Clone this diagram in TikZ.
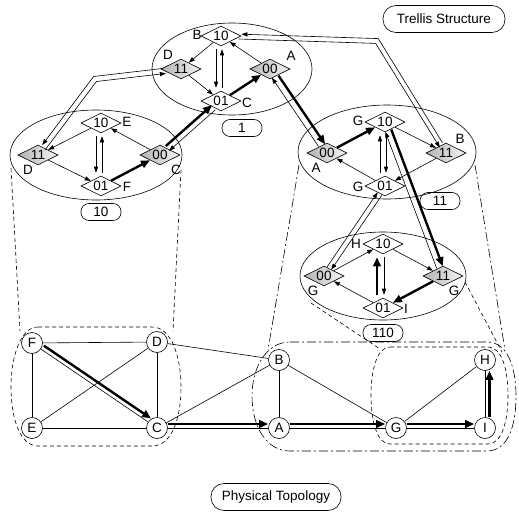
\documentclass[tikz,border=0pt]{standalone}
\usepackage{fontspec}
\setmainfont{Liberation Sans}
\usetikzlibrary{shapes.geometric,arrows.meta,calc}
\begin{document}
\begin{tikzpicture}[x=1pt,y=-1pt,
  font=\fontsize{13.5}{16}\selectfont,
  ln/.style={line width=0.6pt},
  ar/.style={line width=0.6pt,-{Triangle[length=6pt,width=4.2pt]}},
  tar/.style={line width=2.4pt,-{Triangle[length=9pt,width=7.5pt]}},
  el/.style={line width=0.6pt},
  st/.style={diamond,draw,line width=0.6pt,fill=white,minimum width=40pt,minimum height=20pt,inner sep=0pt,aspect=2},
  sst/.style={st,left color=gray!60,right color=gray!8},
  lbl/.style={draw,line width=0.6pt,rounded corners=8pt,minimum width=40pt,minimum height=17pt,inner sep=0pt},
  ttl/.style={draw,line width=0.6pt,rounded corners=13pt,minimum height=27pt,inner sep=0pt},
  pn/.style={circle,draw,line width=0.6pt,fill=white,minimum size=21pt,inner sep=0pt},
  dsh/.style={line width=0.6pt,dash pattern=on 4pt off 3pt},
  dd/.style={line width=0.6pt,dash pattern=on 9pt off 3pt on 2pt off 3pt},
  tx/.style={inner sep=0pt}]
\useasboundingbox (0,0) rectangle (519,519);

% ---------- titles ----------
\node[ttl,minimum width=122pt] (trellis) at (444,19) {Trellis Structure};
\node[ttl,minimum width=130pt] (phys) at (276,497) {Physical Topology};

% ---------- ellipses ----------
\draw[el] (232,69) ellipse [x radius=80, y radius=46];
\draw[el] (96,155) ellipse [x radius=86, y radius=45];
\draw[el] (387,152) ellipse [x radius=89, y radius=47];
\draw[el] (383,276) ellipse [x radius=83, y radius=44];

% ---------- top trellis (1) ----------
\node[st]  (tB) at (221,36) {10};
\node[sst] (tD) at (181,69) {11};
\node[sst] (tA) at (270,69) {00};
\node[st]  (tC) at (221,101) {01};
\node[lbl] (t1) at (242,128) {1};
\node[tx] (tBl) at (197,35) {B};
\node[tx] (tDl) at (168,55) {D};
\node[tx] (tAl) at (291,56) {A};
\node[tx] (tCl) at (247,103) {C};

% ---------- left trellis (10) ----------
\node[st]  (lE) at (101,123) {10};
\node[sst] (lD) at (38,155) {11};
\node[sst] (lC) at (160,155) {00};
\node[st]  (lF) at (101,186) {01};
\node[lbl] (l10) at (101,212) {10};
\node[tx] (lEl) at (127,122) {E};
\node[tx] (lDl) at (28,170) {D};
\node[tx] (lCl) at (176,170) {C};
\node[tx] (lFl) at (127,187) {F};

% ---------- right trellis (11) ----------
\node[st]  (rG) at (385,122) {10};
\node[sst] (rA) at (327,153) {00};
\node[sst] (rB) at (446,153) {11};
\node[st]  (rH) at (385,186) {01};
\node[lbl] (r11) at (440,201) {11};
\node[tx] (rGl) at (358,121) {G};
\node[tx] (rAl) at (316,168) {A};
\node[tx] (rBl) at (460,139) {B};
\node[tx] (rHl) at (358,187) {G};

% ---------- lower trellis (110) ----------
\node[st]  (wH) at (383,244) {10};
\node[sst] (wG) at (324,276) {00};
\node[sst] (wK) at (443,276) {11};
\node[st]  (wI) at (383,308) {01};
\node[lbl] (w110) at (383,333) {110};
\node[tx] (wHl) at (356,244) {H};
\node[tx] (wGl) at (313,291) {G};
\node[tx] (wKl) at (454,291) {G};
\node[tx] (wIl) at (406,309) {I};

% ---------- edges inside trellises ----------
% top
\draw[ar] (tB) -- (tD);
\draw[ar] (tD) -- (tC);
\draw[ar] (tA) -- (tB);
\draw[tar] (tC) -- (tA);
\draw[ar] ($(tB.south)+(-5,3)$) -- ($(tC.north)+(-5,-3)$);
\draw[ar] ($(tC.north)+(1,-3)$) -- ($(tB.south)+(1,3)$);
% left
\draw[ar] (lE) -- (lD);
\draw[ar] (lD) -- (lF);
\draw[ar] (lC) -- (lE);
\draw[tar] (lF) -- (lC);
\draw[ar] ($(lE.south)+(-5,3)$) -- ($(lF.north)+(-5,-3)$);
\draw[ar] ($(lF.north)+(1,-3)$) -- ($(lE.south)+(1,3)$);
% right
\draw[tar] (rA) -- (rG);
\draw[ar] (rG) -- (rB);
\draw[ar] (rB) -- (rH);
\draw[ar] (rH) -- (rA);
\draw[ar] ($(rH.north)+(-5,-3)$) -- ($(rG.south)+(-5,3)$);
\draw[ar] ($(rG.south)+(1,3)$) -- ($(rH.north)+(1,-3)$);
% lower
\draw[ar] (wG) -- (wH);
\draw[ar] (wH) -- (wK);
\draw[tar] (wK) -- (wI);
\draw[ar] (wI) -- (wG);
\draw[tar] ($(wI.north)+(-6,-3)$) -- ($(wH.south)+(-6,3)$);
\draw[ar] ($(wH.south)+(1,3)$) -- ($(wI.north)+(1,-3)$);

% ---------- edges between trellises ----------
\coordinate (bendD) at (95,79);
\draw[ar,transform canvas={shift={(-1.4,-2.5)}}] (tD) -- (bendD) -- (lD);
\draw[ar,transform canvas={shift={(1.4,2.5)}}] (lD) -- (bendD) -- (tD);
\coordinate (bendB) at (377,41);
\draw[ar,transform canvas={shift={(1.3,-2.4)}}] (rB) -- (bendB) -- (tB);
\draw[ar,transform canvas={shift={(-1.3,2.4)}}] (tB) -- (bendB) -- (rB);
\draw[tar,transform canvas={shift={(-1.6,-2.4)}}] (lC) -- (tC);
\draw[ar,transform canvas={shift={(1.6,2.4)}}] (tC) -- (lC);
\draw[tar,transform canvas={shift={(3.3,-1.05)}}] (tA) -- (rA);
\draw[ar,transform canvas={shift={(-3.3,1.05)}}] (rA) -- (tA);
\draw[ar,transform canvas={shift={(-2.1,-1.4)}}] (wG) -- (rH);
\draw[ar,transform canvas={shift={(2.1,1.4)}}] (rH) -- (wG);
\draw[tar,transform canvas={shift={(3,-1.1)}}] (rG) -- (wK);
\draw[ar,transform canvas={shift={(-3,1.1)}}] (wK) -- (rG);

% ---------- physical topology ----------
\node[pn] (pF) at (32,343) {F};
\node[pn] (pD) at (157,342) {D};
\node[pn] (pE) at (32,428) {E};
\node[pn] (pC) at (157,428) {C};
\node[pn] (pB) at (279,360) {B};
\node[pn] (pA) at (279,428) {A};
\node[pn] (pG) at (396,428) {G};
\node[pn] (pH) at (485,360) {H};
\node[pn] (pI) at (485,428) {I};

\draw[ln] (pF) -- (pD);
\draw[ln] (pF) -- (pE);
\draw[ln] (pD) -- (pC);
\draw[ln] (pE) -- (pC);
\draw[ln] (pE) -- (pD);
\draw[ln] (pF) -- (pC);
\draw[ln] (pD) -- (pB);
\draw[ln] (pC) -- (pB);
\draw[ln] (pB) -- (pA);
\draw[ln] (pB) -- (pG);
\draw[ln] (pG) -- (pH);
\draw[ln] (pH) -- (pI);
\draw[ln] (pC) -- (pA);
\draw[ln] (pA) -- (pG);
\draw[ln] (pG) -- (pI);

\draw[tar,transform canvas={shift={(3,-3.4)}}] (pF) -- (pC);
\draw[tar,transform canvas={shift={(0,-4)}}] (pC) -- (pA);
\draw[tar,transform canvas={shift={(0,-4)}}] (pA) -- (pG);
\draw[tar,transform canvas={shift={(0,-4)}}] (pG) -- (pI);
\draw[tar,transform canvas={shift={(4.5,0)}}] (pI) -- (pH);

% ---------- groupings ----------
\draw[dsh] (38,327) -- (152,327) .. controls (172,327) and (181,358) .. (181,387)
  .. controls (181,418) and (172,446) .. (152,446) -- (38,446)
  .. controls (20,446) and (11,418) .. (11,387) .. controls (11,358) and (20,327) .. (38,327) -- cycle;
\draw[dd] (290,342) -- (487,342) .. controls (508,342) and (516,368) .. (516,396)
  .. controls (516,426) and (508,451) .. (487,451) -- (290,451)
  .. controls (266,451) and (252,426) .. (252,396) .. controls (252,368) and (266,342) .. (290,342) -- cycle;
\draw[dsh] (390,347) -- (488,347) .. controls (502,347) and (508,370) .. (508,395)
  .. controls (508,421) and (502,444) .. (488,444) -- (390,444)
  .. controls (377,444) and (371,421) .. (371,395) .. controls (371,370) and (377,347) .. (390,347) -- cycle;

% ---------- projection lines ----------
\coordinate (a1) at (11,168);  \coordinate (a2) at (20,331);
\coordinate (b1) at (181,170); \coordinate (b2) at (173,331);
\draw[dsh] (a1) -- (a2);
\draw[dsh] (b1) -- (b2);
\coordinate (c1) at (299,165); \coordinate (c2) at (268,350);
\coordinate (d1) at (475,165); \coordinate (d2) at (505,350);
\draw[dd] (c1) -- (c2);
\draw[dd] (d1) -- (d2);
\coordinate (e1) at (311,303); \coordinate (e2) at (380,349);
\coordinate (f1) at (465,282); \coordinate (f2) at (502,352);
\draw[dsh] (e1) -- (e2);
\draw[dsh] (f1) -- (f2);
\end{tikzpicture}
\end{document}
